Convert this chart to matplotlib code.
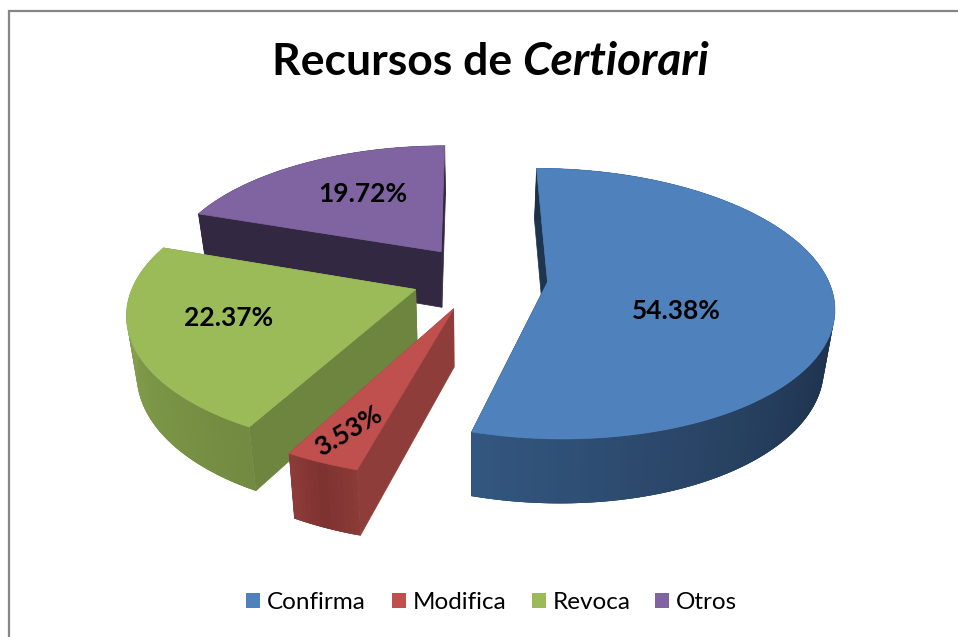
import numpy as np
import matplotlib
matplotlib.use('Agg')
import matplotlib.pyplot as plt
from matplotlib.collections import PolyCollection
from matplotlib.colors import to_rgb
from matplotlib.patches import Rectangle

categories = ['Confirma', 'Modifica', 'Revoca', 'Otros']
values = [54.38, 3.53, 22.37, 19.72]
labels = ['54.38%', '3.53%', '22.37%', '19.72%']

top_colors = ['#4F81BD', '#C0504D', '#9BBB59', '#8064A2']
radial_colors = ['#1E3550', '#8F3D3A', '#6E853F', '#332842']
# wall colour along the rim, start of slice -> end of slice
rim_colors = [
    ['#1C3047', '#1C3047', '#1D3148', '#1F3550', '#2A4567', '#335780'],
    ['#8A3A37', '#7E3230', '#8C3B38'],
    ['#728A41', '#7B9546', '#84A04C', '#8AA64F'],
    ['#332842', '#332842'],
]

plt.rcParams['font.family'] = ['Lato', 'DejaVu Sans']

# view settings for the fake 3d projection
VX, CY = 468, 281
RX, RY = 281, 131.5
K = 0.16
X0, Y0 = 0.042, -0.027
EXPLODE_X, EXPLODE_Y = 0.243, 0.25
DROP = 57
SHRINK = 0.03


def project(x, y, drop=0.0):
    w = 1 - K * y
    sx = RX * x / w
    if drop:
        sx = sx * (1 - SHRINK)
    return VX + sx, CY + RY * y / w + drop / w ** 0.7


fig = plt.figure(figsize=(9.58, 6.37), dpi=100)
ax = fig.add_axes([0, 0, 1, 1])
ax.set_xlim(0, 958)
ax.set_ylim(637, 0)
ax.axis('off')

# chart border, only left and top show in the crop
ax.plot([9, 9, 958], [637, 10.5, 10.5], color='#868686', lw=1.6, solid_joinstyle='miter')

fracs = np.array(values) / sum(values) * 2 * np.pi
ends = np.cumsum(fracs)
starts = ends - fracs

# back to front, every slice gets its own zorder band
for layer, i in enumerate([3, 2, 0, 1]):
    t0, t1 = starts[i], ends[i]
    mid = (t0 + t1) / 2
    ax_x = X0 + EXPLODE_X * np.sin(mid)
    ax_y = Y0 - EXPLODE_Y * np.cos(mid)
    th = np.linspace(t0, t1, 200)
    rim_x = ax_x + np.sin(th)
    rim_y = ax_y - np.cos(th)
    z = 10 * layer

    # radial walls
    for t in (t0, t1):
        ex, ey = ax_x + np.sin(t), ax_y - np.cos(t)
        a = project(ax_x, ax_y)
        b = project(ex, ey)
        c = project(ex, ey, DROP)
        d = project(ax_x, ax_y, DROP)
        ax.fill([a[0], b[0], c[0], d[0]], [a[1], b[1], c[1], d[1]],
                color=radial_colors[i], lw=0.5, zorder=z + 1)

    stops = np.array([to_rgb(c) for c in rim_colors[i]])
    pos = np.linspace(0, 1, len(stops))

    # solid rim under the gradient so the bottom edge stays smooth
    bx, by = project(rim_x, rim_y, DROP)
    tx, ty = project(rim_x, rim_y)
    ax.fill(np.r_[tx, bx[::-1]], np.r_[ty, by[::-1]], color=stops.mean(axis=0), lw=0, zorder=z + 2)

    # rim gradient, strips a few px wide that overlap the next one so no seams
    n_strip = int((t1 - t0) * 40) + 7
    sth = np.linspace(t0, t1, n_strip)
    sx_w = ax_x + np.sin(sth)
    sy_w = ax_y - np.cos(sth)
    polys, cols = [], []
    for j in range(n_strip - 1):
        k = min(j + 2, n_strip - 1)
        p = project(sx_w[j], sy_w[j])
        q = project(sx_w[k], sy_w[k])
        r = project(sx_w[k], sy_w[k], DROP)
        s = project(sx_w[j], sy_w[j], DROP)
        polys.append([p, q, r, s])
        f = j / (n_strip - 2)
        cols.append([np.interp(f, pos, stops[:, n]) for n in range(3)])
    ax.add_collection(PolyCollection(polys, facecolors=cols, edgecolors='none', zorder=z + 3))

    # top face
    fx, fy = project(np.r_[ax_x, rim_x], np.r_[ax_y, rim_y])
    ax.fill(fx, fy, color=top_colors[i], lw=0.5, zorder=z + 4)

# data labels
label_pos = [(676, 311), (349, 431), (229, 318), (363, 194)]
label_rot = [0, 31, 0, 0]
for lab, (lx, ly), rot in zip(labels, label_pos, label_rot):
    ax.text(lx, ly, lab, ha='center', va='center', rotation=rot, rotation_mode='anchor',
            fontsize=19, fontweight='bold', color='black', zorder=100)

# title, two runs because of the italic word
ax.text(272, 75, 'Recursos de', fontsize=32, fontweight='bold', va='baseline', ha='left')
ax.text(522, 75, 'Certiorari', fontsize=33, fontweight='bold', style='italic',
        va='baseline', ha='left')

# legend
legend_x = [246, 392, 532, 655]
for name, col, lx in zip(categories, top_colors, legend_x):
    ax.add_patch(Rectangle((lx, 593), 14.5, 15, facecolor=col, edgecolor='none'))
    ax.text(lx + 21, 609, name, fontsize=17.5, color='black', va='baseline', ha='left')

fig.savefig('out.png', dpi=100)
